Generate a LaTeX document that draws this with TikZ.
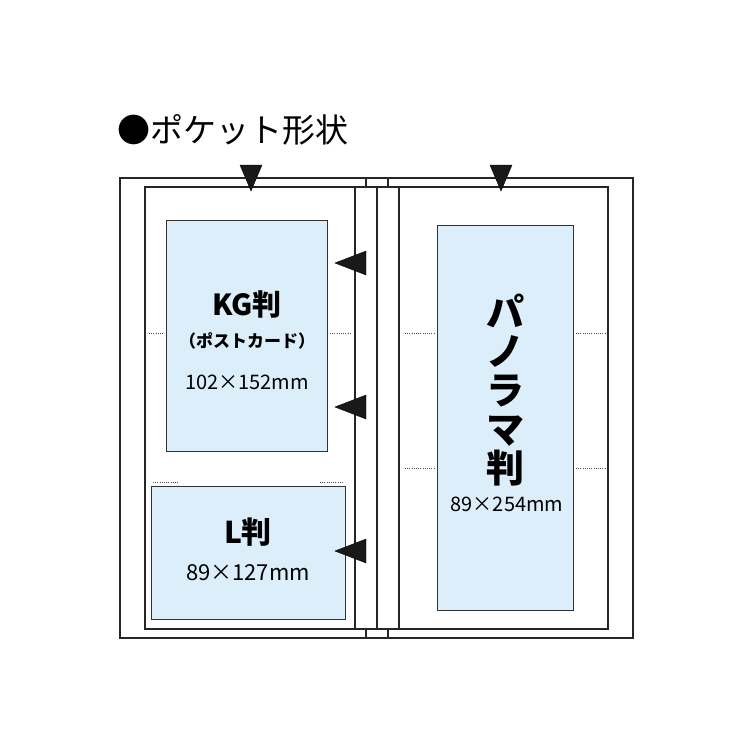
\documentclass[tikz,border=0pt]{standalone}
\usepackage{fontspec}
\setmainfont{Noto Sans CJK JP}
\definecolor{photofill}{HTML}{DCEEFA}
\begin{document}
\begin{tikzpicture}[x=1pt,y=-1pt,
  ln/.style={draw=black!85,line width=1.4pt},
  photo/.style={draw=black!80,line width=0.9pt,fill=photofill},
  dot/.style={draw=black!70,line width=0.6pt,dash pattern=on 1pt off 1.2pt},
  tri/.style={fill=black!90}]
\useasboundingbox (0,0) rectangle (750,750);
% frame
\draw[ln,line width=2.4pt] (120,178) rectangle (633,638);
\draw[ln] (355,187) -- (399,187) (355,629) -- (399,629);
\draw[ln] (366,178) rectangle (388,187);
\draw[ln] (366,629) rectangle (388,638);
\draw[ln] (145,187) rectangle (355,629);
\draw[ln] (377,187) -- (377,629);
\draw[ln] (399,187) rectangle (608,629);
% photos
\node[photo,minimum width=161,minimum height=231,inner sep=0,anchor=north west] (kg) at (166,220) {};
\node[photo,minimum width=194,minimum height=133,inner sep=0,anchor=north west] (l) at (151,486) {};
\node[photo,minimum width=136,minimum height=385,inner sep=0,anchor=north west] (pa) at (437,225) {};
% dotted
\draw[dot] (149,333) -- (163,333) (330,333) -- (350,333);
\draw[dot] (405,333) -- (435,333) (576,333) -- (606,333);
\draw[dot] (405,468) -- (435,468) (576,468) -- (606,468);
\draw[dot] (153,482) -- (178,482) (320,482) -- (344,482);
% triangles
\draw[tri] (240,165) -- (262,165) -- (251,191) -- cycle;
\draw[tri] (490,165) -- (512,165) -- (501,191) -- cycle;
\foreach \y in {263,407,551}{\draw[tri] (335,\y) -- (366,\y-12) -- (366,\y+12) -- cycle;}
% texts
\node[anchor=west,font=\fontsize{33}{34}\selectfont] (title) at (114,130) {●ポケット形状};
\node[font=\fontsize{29}{30}\selectfont\bfseries] (kgt) at (247,304) {KG判};
\node[font=\fontsize{17}{18}\selectfont\bfseries] (kgs) at (247,341) {（ポストカード）};
\node[font=\fontsize{20}{20}\selectfont] (kgm) at (247,382) {102×152mm};
\node[font=\fontsize{30}{30}\selectfont\bfseries] (lt) at (248,532) {L判};
\node[font=\fontsize{22}{22}\selectfont] (lm) at (248,573) {89×127mm};
\node[font=\fontsize{38}{39}\selectfont\bfseries,align=center] (pt) at (505,390) {パ\\ノ\\ラ\\マ\\判};
\node[font=\fontsize{20}{20}\selectfont] (pm) at (507,504) {89×254mm};
\end{tikzpicture}
\end{document}
